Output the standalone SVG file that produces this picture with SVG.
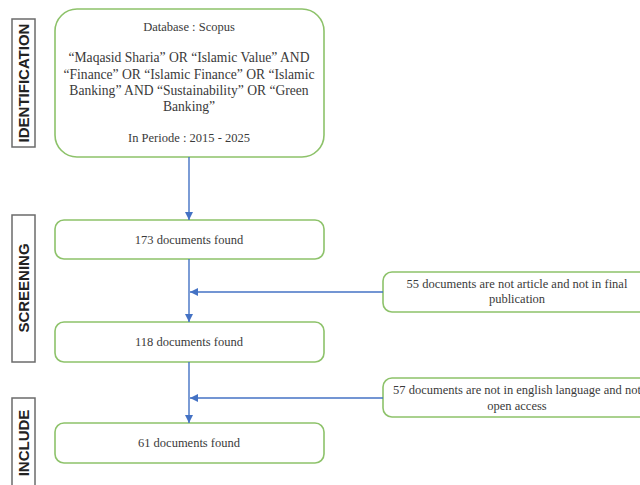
<svg xmlns="http://www.w3.org/2000/svg" width="640" height="485" viewBox="0 0 640 485">
<style>
.box{fill:#fff;stroke:#8dc26a;stroke-width:1.6}
.lab{fill:#fff;stroke:#6b6b6b;stroke-width:1.5}
.t{font-family:'Liberation Serif','Times New Roman','DejaVu Serif',serif;font-size:12.5px;fill:#3a3a3a;text-anchor:middle}
.q{font-size:13.6px}
.v{font-family:'Liberation Sans',Arial,sans-serif;font-size:15px;font-weight:bold;fill:#222;text-anchor:middle}
.c{stroke:#4472c4;stroke-width:1.4;fill:none}
</style>
<defs>
<marker id="ah" viewBox="0 0 10 10" refX="10" refY="5" markerWidth="8" markerHeight="8" markerUnits="userSpaceOnUse" orient="auto">
<path d="M0,0 L10,5 L0,10 z" fill="#4472c4"/>
</marker>
</defs>
<g id="label-identification"><rect class="lab" x="12" y="19" width="23" height="128"/><text class="v" transform="translate(28.5,83) rotate(-90)">IDENTIFICATION</text></g>
<g id="label-screening"><rect class="lab" x="12" y="215" width="23" height="147"/><text class="v" transform="translate(28.5,288) rotate(-90)">SCREENING</text></g>
<g id="label-include"><rect class="lab" x="12" y="398" width="23" height="100"/><text class="v" transform="translate(28.5,443) rotate(-90)">INCLUDE</text></g>
<g id="n-search"><rect class="box" x="55" y="9" width="269" height="148" rx="22"/>
<text class="t" x="189" y="31">Database : Scopus</text>
<text class="t q" x="189" y="62">“Maqasid Sharia” OR “Islamic Value” AND</text>
<text class="t q" x="189" y="79">“Finance” OR “Islamic Finance” OR “Islamic</text>
<text class="t q" x="189" y="95">Banking” AND “Sustainability” OR “Green</text>
<text class="t q" x="189" y="111">Banking”</text>
<text class="t" x="189" y="142">In Periode : 2015 - 2025</text></g>
<g id="n-173"><rect class="box" x="55" y="220" width="269" height="39" rx="9"/><text class="t" x="189" y="244">173 documents found</text></g>
<g id="n-118"><rect class="box" x="55" y="322" width="269" height="40" rx="9"/><text class="t" x="189" y="346">118 documents found</text></g>
<g id="n-61"><rect class="box" x="55" y="423" width="269" height="40" rx="9"/><text class="t" x="189" y="447">61 documents found</text></g>
<g id="n-ex1"><rect class="box" x="383" y="272" width="275" height="40" rx="9"/><text class="t" x="517" y="288">55 documents are not article and not in final</text><text class="t" x="517" y="303">publication</text></g>
<g id="n-ex2"><rect class="box" x="383" y="378" width="275" height="39" rx="9"/><text class="t" x="517" y="394">57 documents are not in english language and not</text><text class="t" x="517" y="410">open access</text></g>
<g id="connectors">
<path class="c" d="M189,157 V220" marker-end="url(#ah)"/>
<path class="c" d="M189,259 V322" marker-end="url(#ah)"/>
<path class="c" d="M189,362 V423" marker-end="url(#ah)"/>
<path class="c" d="M383,292 H190" marker-end="url(#ah)"/>
<path class="c" d="M383,398 H190" marker-end="url(#ah)"/>
</g>
</svg>
